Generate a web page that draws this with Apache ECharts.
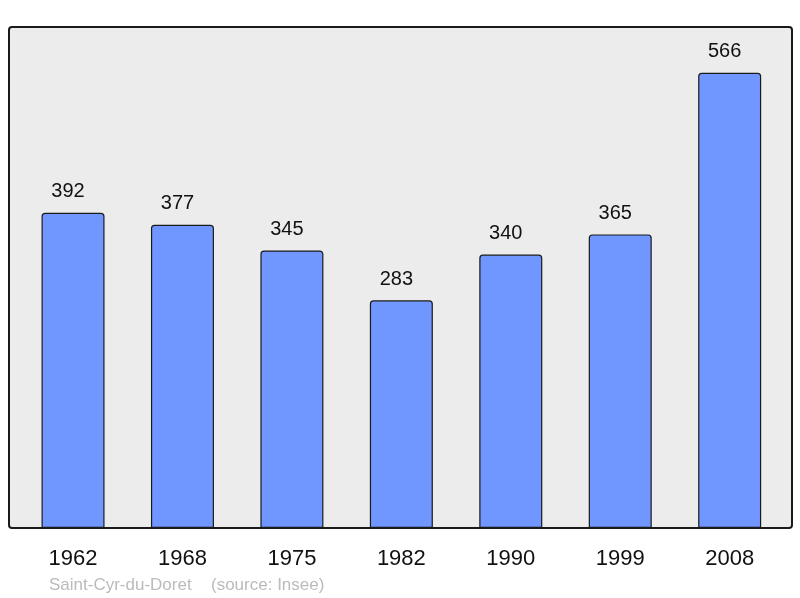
<!DOCTYPE html>
<html>
<head>
<meta charset="utf-8">
<script src="https://cdn.jsdelivr.net/npm/echarts@6/dist/echarts.min.js"></script>
<style>
html,body{margin:0;padding:0;background:#fff;}
#chart{width:800px;height:598px;}
</style>
</head>
<body>
<div id="chart"></div>
<script>
var years = ['1962', '1968', '1975', '1982', '1990', '1999', '2008'];
var population = [392, 377, 345, 283, 340, 365, 566];
var footerPlace = 'Saint-Cyr-du-Doret';
var footerSource = '(source: Insee)';

var chart = echarts.init(document.getElementById('chart'), null, {renderer: 'canvas'});
chart.setOption({
  animation: false,
  backgroundColor: '#ffffff',
  graphic: [
    {
      type: 'rect', z: -10,
      shape: {x: 9, y: 27, width: 783, height: 501, r: 3},
      style: {fill: '#ececec', stroke: '#1a1a1a', lineWidth: 2}
    },
    {
      type: 'text', left: 49, top: 577,
      style: {text: footerPlace, fill: '#bbbbbb', font: '17px "Liberation Sans", Arial, sans-serif'}
    },
    {
      type: 'text', left: 211, top: 577,
      style: {text: footerSource, fill: '#bbbbbb', font: '17px "Liberation Sans", Arial, sans-serif'}
    }
  ],
  grid: {left: 18.3, right: 15.6, top: 45.4, bottom: 70, containLabel: false},
  xAxis: {
    type: 'category',
    data: years,
    boundaryGap: true,
    axisLine: {show: false},
    axisTick: {show: false},
    axisLabel: {
      color: '#111',
      fontSize: 22,
      fontFamily: '"Liberation Sans", Arial, sans-serif',
      margin: 19.5
    }
  },
  yAxis: {
    type: 'value', min: 0, max: 600, interval: 100,
    show: false,
    splitLine: {show: false}
  },
  series: [{
    type: 'bar',
    data: population,
    barWidth: 63,
    itemStyle: {color: '#7097ff', borderColor: '#1a1a1a', borderWidth: 1.2, borderRadius: [3, 3, 0, 0]},
    label: {
      show: true, position: 'top', distance: 11, offset: [-5, 0],
      color: '#111', fontSize: 20,
      fontFamily: '"Liberation Sans", Arial, sans-serif'
    }
  }]
});
</script>
</body>
</html>
